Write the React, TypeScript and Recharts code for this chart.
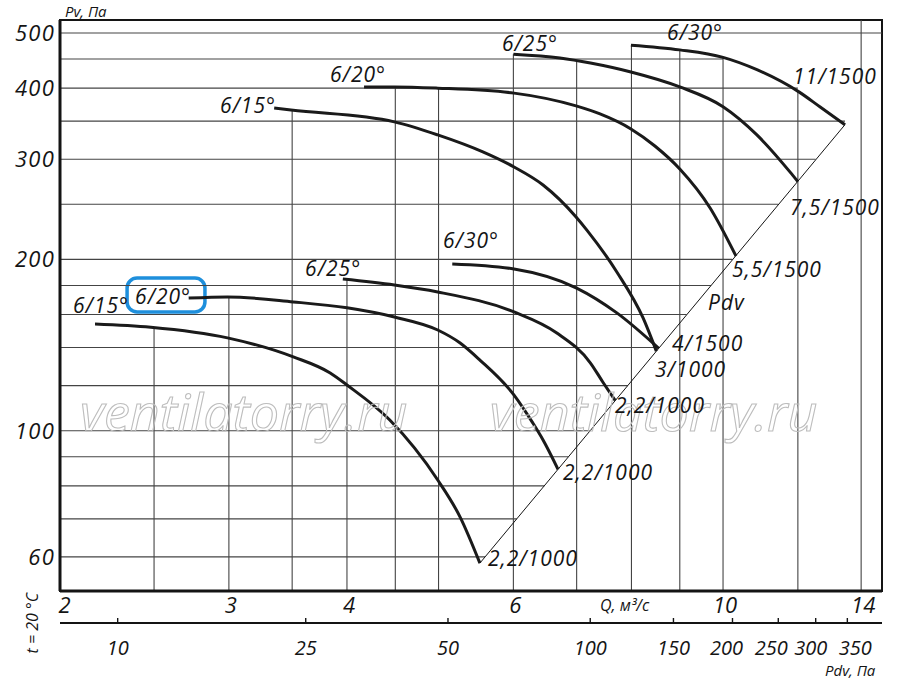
import React from "react";
import {
  ComposedChart,
  Line,
  XAxis,
  YAxis,
  ReferenceLine,
  ReferenceDot,
  ReferenceArea,
} from "recharts";

// axis ranges (Q in m³/s, Pv and Pdv in Pa)
const qDomain = [1.988, 14.73];
const pvDomain = [52.27, 527];
const pdvDomain = [7.55, 414.4];

const qTicks = [2, 3, 4, 6, 10, 14];
const pvTicks = [60, 100, 200, 300, 400, 500];
const pdvTicks = [10, 25, 50, 100, 150, 200, 250, 300, 350];

// upper family
const up15Q = [3.35, 3.49, 4.49, 4.99, 5.57, 6.01, 6.45, 6.99, 7.18, 7.72, 8.23, 8.5];
const up15P = [369, 366, 349, 331, 309, 290.7, 270.3, 237.5, 225, 190.1, 157.8, 138];
const up20Q = [4.17, 4.49, 4.99, 6.01, 6.99, 7.41, 7.99, 8.47, 9.0, 9.69, 10.32];
const up20P = [402, 402, 400, 392, 372.2, 360.3, 339.1, 316.5, 288.4, 246.3, 202.8];
const up25Q = [6.0, 6.72, 7.24, 7.99, 9.0, 10.0, 10.86, 11.77, 12.0];
const up25P = [459, 452, 442.8, 427, 402, 371, 331, 285, 274];
const up30Q = [7.99, 9.0, 10.0, 10.86, 12.03, 12.66, 13.46];
const up30P = [476, 467, 453, 431, 394, 371, 345];

// lower family
const low15Q = [2.165, 2.48, 2.99, 3.51, 3.84, 4.0, 4.44, 4.99, 5.27, 5.53];
const low15P = [154, 152, 145.6, 134.8, 126.3, 120.3, 104.4, 81.9, 70.5, 58.5];
const low20Q = [2.72, 2.99, 3.51, 4.0, 4.49, 4.99, 5.27, 5.53, 6.01, 6.29, 6.45, 6.69];
const low20P = [171, 171.8, 168.4, 164.4, 158.4, 150.3, 142.6, 133.1, 115.5, 103.2, 96.3, 85.5];
const low25Q = [3.96, 4.49, 4.99, 6.01, 6.67, 7.24, 7.46, 7.69];
const low25P = [184.7, 180.3, 175.3, 161.7, 148.5, 131.5, 121.8, 113];
const low30Q = [5.17, 6.01, 7.0, 7.72, 8.55];
const low30P = [196.3, 192.4, 178.1, 161.1, 139.6];

// Pdv line (Pv = Pdv), plotted on the Pdv axis
const diagPdv = [58.4, 346];
const diagP = [58.5, 345];

// grid
const vGridQ = [2.5, 3, 3.5, 4, 4.5, 5, 6, 7, 8, 9, 10, 12, 14];
const vGridTop = [152, 171.8, 366, 184.7, 402, 400, 459, 445, 476, 467, 453, 394, 527];
const hGridP = [500, 450, 400, 350, 300, 250, 200, 180, 160, 140, 120, 100, 90, 80, 70, 60];
const hGridEnd = [14.73, 10, 12, 13.46, 12.53, 11.44, 10.23, 9.71, 9.15, 8.56, 7.93, 7.24, 6.86, 6.47, 6.05, 5.6];

// labels
const curveLabels = [
  { text: "6/15°", q: 2.935, p: 361.7 },
  { text: "6/20°", q: 3.838, p: 410 },
  { text: "6/25°", q: 5.835, p: 464.9 },
  { text: "6/30°", q: 8.725, p: 486 },
  { text: "11/1500", q: 11.86, p: 406.7 },
  { text: "7,5/1500", q: 11.77, p: 239.4 },
  { text: "5,5/1500", q: 10.22, p: 186.3 },
  { text: "Pdv", q: 9.641, p: 163 },
  { text: "4/1500", q: 8.831, p: 138.2 },
  { text: "3/1000", q: 8.472, p: 124.3 },
  { text: "2,2/1000", q: 7.686, p: 107.5 },
  { text: "2,2/1000", q: 6.772, p: 81.9 },
  { text: "2,2/1000", q: 5.639, p: 57.8 },
  { text: "6/30°", q: 5.054, p: 209.4 },
  { text: "6/25°", q: 3.612, p: 187 },
  { text: "6/20°", q: 2.387, p: 167 },
  { text: "6/15°", q: 2.052, p: 161 },
];

const watermarks = [
  { text: "ventilatorry.ru", q: 2.087, p: 100 },
  { text: "ventilatorry.ru", q: 5.666, p: 100 },
];

const toPoints = (qs: number[], ps: number[]) => qs.map((q, i) => ({ q, p: ps[i] }));

const curves = [
  toPoints(up15Q, up15P),
  toPoints(up20Q, up20P),
  toPoints(up25Q, up25P),
  toPoints(up30Q, up30P),
  toPoints(low15Q, low15P),
  toPoints(low20Q, low20P),
  toPoints(low25Q, low25P),
  toPoints(low30Q, low30P),
];

const pdvLine = diagPdv.map((pdv, i) => ({ pdv, p: diagP[i] }));

const FONT = "'Open Sans', 'DejaVu Sans', sans-serif";
const INK = "#141414";

const textAt = (text: string, size: number, anchor = "start", rotate = 0, spacing = 0) => (props: any) => (
  <text
    x={props.cx}
    y={props.cy}
    fontFamily={FONT}
    fontStyle="italic"
    fontSize={size}
    letterSpacing={spacing}
    fill={INK}
    textAnchor={anchor}
    transform={rotate ? `rotate(${rotate} ${props.cx} ${props.cy})` : undefined}
  >
    {text}
  </text>
);

const watermarkShape = (text: string) => (props: any) => (
  <text
    x={props.cx}
    y={props.cy}
    fontFamily={FONT}
    fontStyle="italic"
    fontSize={52}
    fill="none"
    stroke="#bdbdbd"
    strokeWidth={1.1}
  >
    {text}
  </text>
);

const QTick = ({ x, y, payload }: any) => (
  <text x={x + 2} y={y + 22} textAnchor="middle" fontFamily={FONT} fontStyle="italic" fontSize={22} fill={INK}>
    {payload.value}
  </text>
);

const PvTick = ({ x, y, payload }: any) => (
  <text
    x={x - 5}
    y={y + 8}
    textAnchor="end"
    fontFamily={FONT}
    fontStyle="italic"
    fontSize={22}
    letterSpacing={1.2}
    fill={INK}
  >
    {payload.value}
  </text>
);

// the crowded labels at the right end sit a little apart from their ticks
const pdvNudge: Record<number, number> = { 200: -6, 250: -7, 300: -5, 350: 8 };

const PdvTick = ({ x, y, payload }: any) => (
  <g>
    <line x1={x} y1={y - 5} x2={x} y2={y} stroke={INK} strokeWidth={1.4} />
    <text
      x={x + (pdvNudge[payload.value] || 0)}
      y={y + 32}
      textAnchor="middle"
      fontFamily={FONT}
      fontStyle="italic"
      fontSize={20}
      fill={INK}
    >
      {payload.value}
    </text>
  </g>
);

export default function App() {
  return (
    <div style={{ position: "absolute", left: 0, top: 0, width: 900, height: 683, background: "#fff" }}>
      <ComposedChart width={900} height={683} margin={{ top: 20, right: 18, bottom: 0, left: 0 }}>
        <XAxis
          dataKey="q"
          type="number"
          scale="log"
          domain={qDomain}
          allowDataOverflow
          ticks={qTicks}
          interval={0}
          tickLine={false}
          tickSize={0}
          tickMargin={0}
          tick={<QTick />}
          axisLine={{ stroke: INK, strokeWidth: 3 }}
          height={32}
        />
        <XAxis
          xAxisId="pdv"
          dataKey="pdv"
          type="number"
          scale="log"
          domain={pdvDomain}
          allowDataOverflow
          ticks={pdvTicks}
          interval={0}
          tickLine={false}
          tickSize={0}
          tickMargin={0}
          tick={<PdvTick />}
          axisLine={{ stroke: INK, strokeWidth: 2 }}
          height={60}
        />
        <YAxis
          type="number"
          scale="log"
          domain={pvDomain}
          allowDataOverflow
          ticks={pvTicks}
          interval={0}
          tickLine={false}
          tickSize={0}
          tickMargin={0}
          tick={<PvTick />}
          axisLine={{ stroke: INK, strokeWidth: 3 }}
          width={60}
        />

        {vGridQ.map((q, i) => (
          <ReferenceLine
            key={`v${i}`}
            segment={[{ x: q, y: vGridTop[i] }, { x: q, y: pvDomain[0] }]}
            stroke="#444"
            strokeWidth={1.1}
            ifOverflow="hidden"
          />
        ))}
        {hGridP.map((p, i) => (
          <ReferenceLine
            key={`h${i}`}
            segment={[{ x: qDomain[0], y: p }, { x: hGridEnd[i], y: p }]}
            stroke="#444"
            strokeWidth={1.1}
            ifOverflow="hidden"
          />
        ))}

        <ReferenceArea
          x1={qDomain[0]}
          x2={qDomain[1]}
          y1={pvDomain[0]}
          y2={pvDomain[1]}
          fill="none"
          stroke={INK}
          strokeWidth={2}
          ifOverflow="visible"
        />

        {watermarks.map((w, i) => (
          <ReferenceDot key={`w${i}`} x={w.q} y={w.p} ifOverflow="visible" shape={watermarkShape(w.text)} />
        ))}

        <Line
          xAxisId="pdv"
          data={pdvLine}
          dataKey="p"
          type="linear"
          stroke={INK}
          strokeWidth={1}
          dot={false}
          activeDot={false}
          isAnimationActive={false}
        />
        {curves.map((c, i) => (
          <Line
            key={`c${i}`}
            data={c}
            dataKey="p"
            type="monotone"
            stroke="#1a1a1a"
            strokeWidth={3}
            dot={false}
            activeDot={false}
            isAnimationActive={false}
          />
        ))}

        <ReferenceArea
          x1={2.341}
          x2={2.83}
          y1={161.7}
          y2={185.5}
          fill="none"
          stroke="#1e8fdc"
          strokeWidth={3.5}
          radius={10}
          ifOverflow="visible"
        />

        {curveLabels.map((l, i) => (
          <ReferenceDot
            key={`l${i}`}
            x={l.q}
            y={l.p}
            ifOverflow="visible"
            shape={textAt(l.text, 21, "start", 0, 1)}
          />
        ))}

        <ReferenceDot x={2.012} y={534} ifOverflow="visible" shape={textAt("Pv, Па", 15)} />
        <ReferenceDot x={7.41} y={48.2} ifOverflow="visible" shape={textAt("Q, м³/с", 16)} />
        <ReferenceDot x={12.82} y={37.1} ifOverflow="visible" shape={textAt("Pdv, Па", 15)} />
        <ReferenceDot x={1.884} y={45.9} ifOverflow="visible" shape={textAt("t = 20 °C", 16, "middle", -90)} />
      </ComposedChart>
    </div>
  );
}
